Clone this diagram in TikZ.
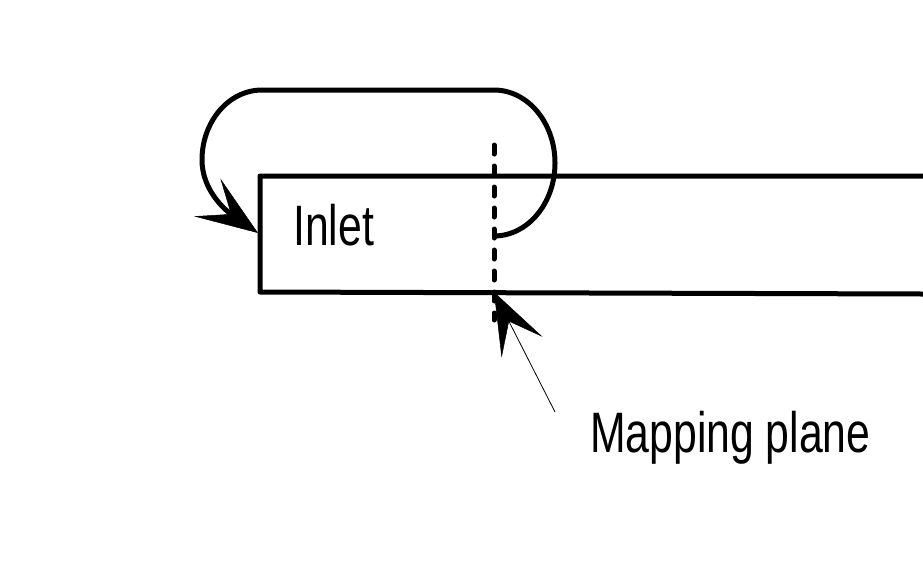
\documentclass[tikz,border=0pt]{standalone}
\usepackage{fontspec}
\setmainfont{Liberation Sans}
\usetikzlibrary{arrows.meta}
\begin{document}
\begin{tikzpicture}[x=1pt,y=-1pt,
  thickline/.style={line width=5pt, line join=round},
  bigtip/.style={-{Stealth[length=62pt,width=46pt,inset=29pt,line width=0.5pt]}},
  label/.style={font=\fontsize{57}{60}\selectfont, xscale=0.75, inner sep=0pt, anchor=base west}]
\useasboundingbox (0,0) rectangle (923,579);
% channel
\draw[thickline] (923,176) -- (260,176) -- (260,292) -- (923,294);
\node[label] (inlet) at (293,245) {Inlet};
% mapping plane (dashed)
\coordinate (dtop) at (494,145);
\coordinate (dbot) at (494,320);
\draw[line width=5pt, line cap=round, dash pattern=on 9pt off 12pt] (dtop) -- (dbot);
% recirculation loop
\coordinate (lstart) at (494,236);
\coordinate (ltip) at (258,233);
\draw[thickline, bigtip] (lstart)
  .. controls (527.7,236) and (555,203.3) .. (555,163)
  .. controls (555,122.7) and (527.7,90) .. (494,90)
  -- (262,90)
  .. controls (228.9,90) and (202,121.3) .. (202,160)
  .. controls (202,192) and (228,212) .. (ltip);
% annotation
\node[label] (mp) at (590,452) {Mapping plane};
\coordinate (mfoot) at (555,412);
\coordinate (mtip) at (494,292);
\draw[line width=0.8pt, bigtip] (mfoot) -- (mtip);
\end{tikzpicture}
\end{document}
